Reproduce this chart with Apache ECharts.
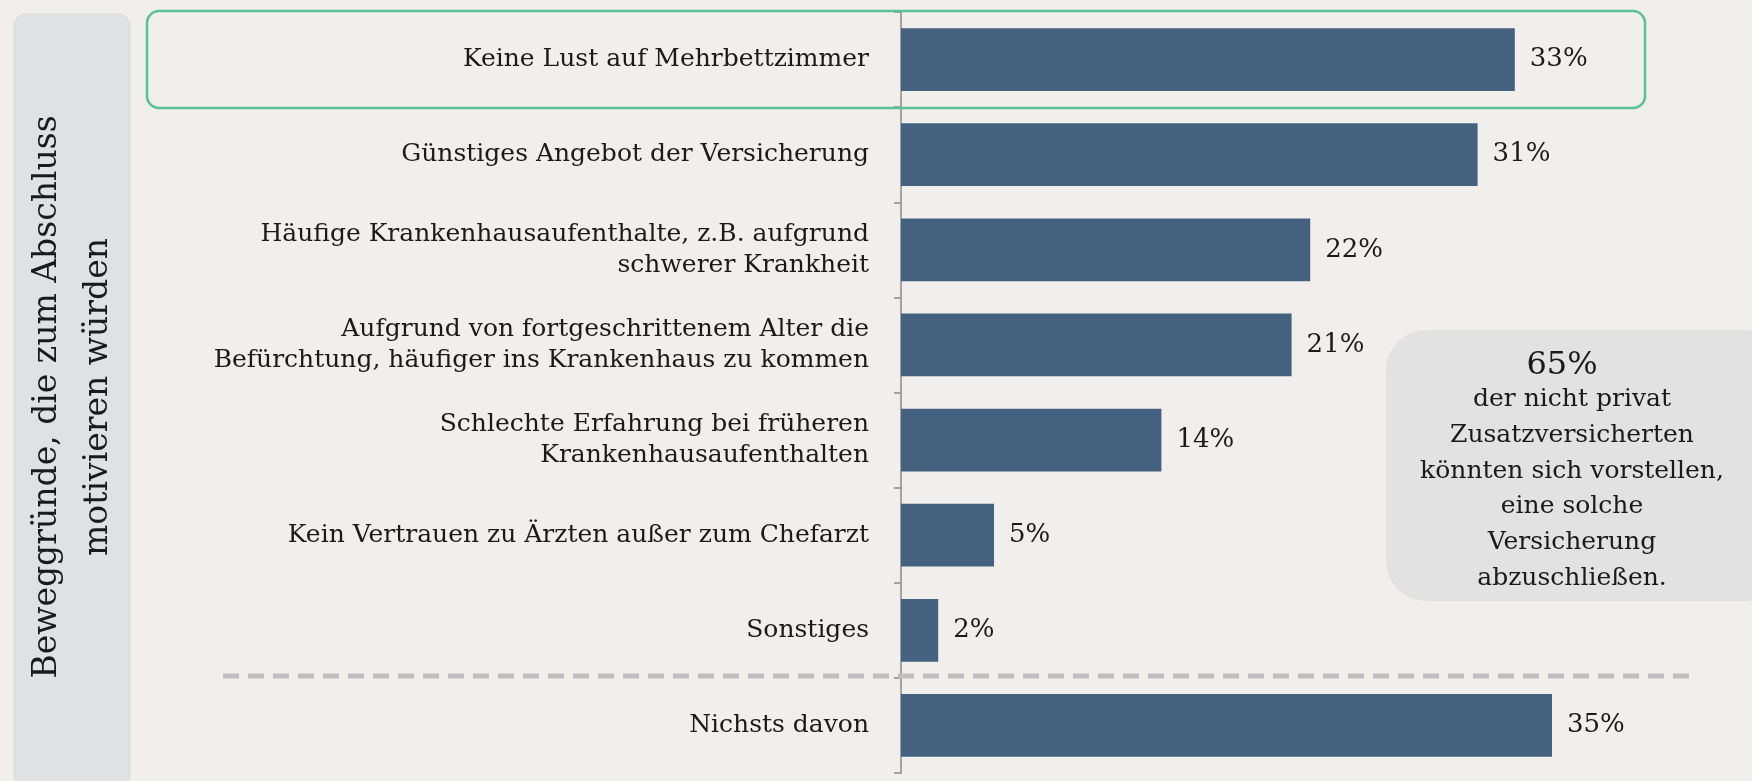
<!DOCTYPE html>
<html>
<head>
<meta charset="utf-8">
<script src="https://cdn.jsdelivr.net/npm/echarts@6/dist/echarts.min.js"></script>
<style>
  html, body { margin: 0; padding: 0; background: #f0efeb; }
  #chart { width: 1752px; height: 781px; }
</style>
</head>
<body>
<div id="chart"></div>
<script>
var categories = [
  'Keine Lust auf Mehrbettzimmer',
  'Günstiges Angebot der Versicherung',
  'Häufige Krankenhausaufenthalte, z.B. aufgrund\nschwerer Krankheit',
  'Aufgrund von fortgeschrittenem Alter die\nBefürchtung, häufiger ins Krankenhaus zu kommen',
  'Schlechte Erfahrung bei früheren\nKrankenhausaufenthalten',
  'Kein Vertrauen zu Ärzten außer zum Chefarzt',
  'Sonstiges',
  'Nichsts davon'
];
var values = [33, 31, 22, 21, 14, 5, 2, 35];

var sideTitle = 'Beweggründe, die zum Abschluss\nmotivieren würden';
var calloutValue = '65%';
var calloutText = 'der nicht privat\nZusatzversicherten\nkönnten sich vorstellen,\neine solche\nVersicherung\nabzuschließen.';

var serif = '"DejaVu Serif", "Liberation Serif", serif';

var myChart = echarts.init(document.getElementById('chart'));

var option = {
  backgroundColor: '#f0efeb',
  animation: false,
  grid: { left: 901, right: 14, top: 12, bottom: 8, containLabel: false },
  xAxis: {
    type: 'value',
    min: 0,
    max: 45,
    show: false
  },
  yAxis: {
    type: 'category',
    inverse: true,
    data: categories,
    axisLine: { show: true, lineStyle: { color: '#8a8a8a', width: 1.5 } },
    axisTick: { show: true, length: 7, lineStyle: { color: '#8a8a8a', width: 1.5 } },
    axisLabel: {
      margin: 32,
      color: '#1a1a1a',
      fontFamily: serif,
      fontSize: 25,
      lineHeight: 31,
      align: 'right'
    },
    splitLine: { show: false }
  },
  graphic: [
    {
      type: 'rect',
      z: 0,
      shape: { x: 13, y: 13, width: 118, height: 775, r: 14 },
      style: { fill: '#dfe1e3' }
    },
    {
      type: 'text',
      z: 1,
      x: 73,
      y: 397,
      rotation: Math.PI / 2,
      style: {
        text: sideTitle,
        font: '33px ' + serif,
        fill: '#1a1a1a',
        align: 'center',
        verticalAlign: 'middle',
        lineHeight: 51
      }
    },
    {
      type: 'rect',
      z: 5,
      shape: { x: 147, y: 11, width: 1498, height: 97, r: 12 },
      style: { fill: null, stroke: '#5cbf97', lineWidth: 2.5 }
    },
    {
      type: 'line',
      z: 5,
      shape: { x1: 223, y1: 676, x2: 1690, y2: 676 },
      style: { stroke: '#bfbfbf', lineWidth: 5, lineDash: [16, 9] }
    },
    {
      type: 'rect',
      z: 5,
      shape: { x: 1386, y: 330, width: 400, height: 271, r: 40 },
      style: { fill: '#e2e2e2' }
    },
    {
      type: 'text',
      z: 6,
      x: 1562,
      y: 366,
      style: {
        text: calloutValue,
        font: '32px ' + serif,
        fill: '#1a1a1a',
        align: 'center',
        verticalAlign: 'middle'
      }
    },
    {
      type: 'text',
      z: 6,
      x: 1572,
      y: 489,
      style: {
        text: calloutText,
        font: '25px ' + serif,
        fill: '#1a1a1a',
        align: 'center',
        verticalAlign: 'middle',
        lineHeight: 35.7
      }
    }
  ],
  series: [
    {
      type: 'bar',
      data: values,
      barCategoryGap: '34%',
      itemStyle: { color: '#44617f' },
      label: {
        show: true,
        position: 'right',
        distance: 15,
        formatter: '{c}%',
        color: '#1a1a1a',
        fontFamily: serif,
        fontSize: 26
      }
    }
  ]
};

myChart.setOption(option);
</script>
</body>
</html>
